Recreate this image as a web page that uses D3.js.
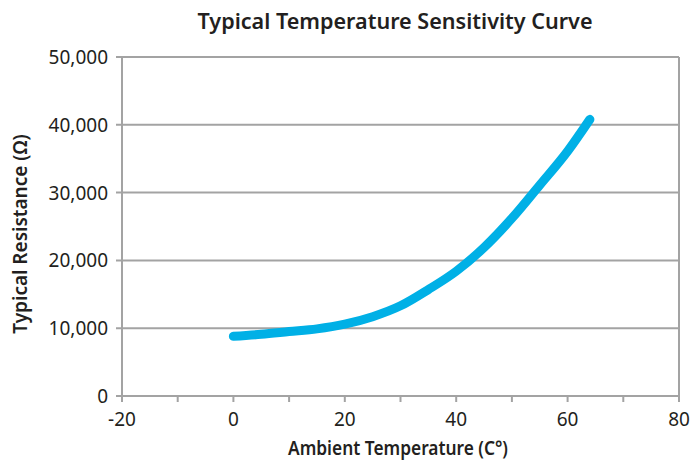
<!DOCTYPE html>
<html>
<head>
<meta charset="utf-8">
<script src="https://cdn.jsdelivr.net/npm/d3@7"></script>
<style>
  body { margin: 0; background: #fff; }
  svg { display: block; font-family: "Noto Sans", sans-serif; }
</style>
</head>
<body>
<svg id="chart"></svg>
<script>
var width = 691;
var height = 462;
var margin = {top:57, left:122, right:12, bottom:66};

// values
var temps = [0, 5, 10, 15, 20, 25, 30, 35, 40, 45, 50, 55, 60, 64];
var resistance = [8800, 9100, 9500, 9900, 10600, 11700, 13300, 15700, 18400, 21900, 26200, 31100, 36100, 40800];
var xticks = [-20, 0, 20, 40, 60, 80];
var xminor = [-20, -10, 0, 10, 20, 30, 40, 50, 60, 70, 80];
var yticks = [0, 10000, 20000, 30000, 40000, 50000];

var grey = '#a3a3a3';
var ink = '#231f20';

var svg = d3.select('#chart').attr('width', width).attr('height', height);

var x = d3.scaleLinear().domain([-20, 80]).range([margin.left, width - margin.right]);
var y = d3.scaleLinear().domain([0, 50000]).range([height - margin.bottom, margin.top]);

// gridlines
svg.append('g').selectAll('line').data(yticks).enter().append('line')
  .attr('x1', margin.left - 6).attr('x2', width - margin.right)
  .attr('y1', function(d){ return y(d); }).attr('y2', function(d){ return y(d); })
  .attr('stroke', grey).attr('stroke-width', 2);

// left and right frame
svg.append('line').attr('x1', x(-20)).attr('x2', x(-20))
  .attr('y1', y(50000)).attr('y2', y(0) + 6)
  .attr('stroke', grey).attr('stroke-width', 2);
svg.append('line').attr('x1', x(80)).attr('x2', x(80))
  .attr('y1', y(50000)).attr('y2', y(0) + 6)
  .attr('stroke', grey).attr('stroke-width', 2);

// x ticks
svg.append('g').selectAll('line').data(xminor).enter().append('line')
  .attr('x1', function(d){ return x(d); }).attr('x2', function(d){ return x(d); })
  .attr('y1', y(0)).attr('y2', y(0) + 6)
  .attr('stroke', grey).attr('stroke-width', 2);

// tick labels
var fmt = d3.format(',');
svg.append('g').selectAll('text').data(yticks).enter().append('text')
  .attr('x', margin.left - 14).attr('y', function(d){ return y(d) + 7; })
  .attr('text-anchor', 'end').attr('font-size', 19).attr('fill', ink)
  .text(function(d){ return fmt(d); });

svg.append('g').selectAll('text').data(xticks).enter().append('text')
  .attr('x', function(d){ return x(d); }).attr('y', y(0) + 30)
  .attr('text-anchor', 'middle').attr('font-size', 19).attr('fill', ink)
  .text(function(d){ return d; });

// curve
var line = d3.line()
  .x(function(d){ return x(d[0]); })
  .y(function(d){ return y(d[1]); })
  .curve(d3.curveMonotoneX);

svg.append('path')
  .datum(d3.zip(temps, resistance))
  .attr('d', line)
  .attr('fill', 'none')
  .attr('stroke', '#00b0e6')
  .attr('stroke-width', 9)
  .attr('stroke-linecap', 'round')
  .attr('stroke-linejoin', 'round');

// titles (reference font is narrower, so squeeze to its width)
svg.append('text').attr('x', 395).attr('y', 29)
  .attr('text-anchor', 'middle').attr('font-size', 22).attr('font-weight', 600)
  .attr('textLength', 395).attr('lengthAdjust', 'spacingAndGlyphs')
  .attr('fill', ink).text('Typical Temperature Sensitivity Curve');

svg.append('text').attr('x', 398).attr('y', 455)
  .attr('text-anchor', 'middle').attr('font-size', 19).attr('font-weight', 600)
  .attr('textLength', 220).attr('lengthAdjust', 'spacingAndGlyphs')
  .attr('fill', ink).text('Ambient Temperature (C°)');

svg.append('text')
  .attr('transform', 'translate(27,' + 234 + ') rotate(-90)')
  .attr('text-anchor', 'middle').attr('font-size', 19).attr('font-weight', 600)
  .attr('fill', ink).text('Typical Resistance (Ω)');
</script>
</body>
</html>
